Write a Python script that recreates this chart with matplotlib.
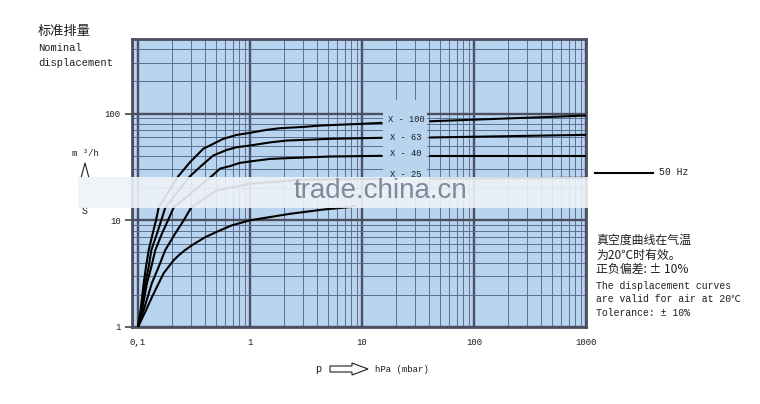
import matplotlib
matplotlib.use("Agg")
import matplotlib.pyplot as plt
from matplotlib.ticker import FixedLocator, NullFormatter
from matplotlib.patches import Rectangle, Polygon
from matplotlib.lines import Line2D

# pump curves: pressure p (hPa) vs displacement S (m3/h)
p_x100 = [0.1, 0.1064, 0.1124, 0.1179, 0.1246, 0.1353, 0.1448, 0.153, 0.229, 0.291, 0.383,
          0.577, 0.761, 1.0, 1.41, 1.85, 2.99, 4.22, 5.9, 9.73, 15.0]
s_x100 = [1.0, 1.55, 2.58, 3.66, 5.25, 7.53, 10.0, 13.2, 25.9, 35.0, 46.8,
          58.0, 63.1, 66.0, 70.4, 72.9, 75.0, 77.2, 78.4, 80.1, 81.9]
p_x100_tail = [40.5, 1000]
s_x100_tail = [84.7, 95.8]

p_x63 = [0.1, 0.1086, 0.1162, 0.1246, 0.1315, 0.1478, 0.1615, 0.1753, 0.291, 0.37, 0.470,
         0.619, 0.761, 1.0, 1.51, 2.13, 5.18, 15.0]
s_x63 = [1.0, 1.55, 2.58, 3.66, 5.25, 7.53, 10.0, 13.2, 25.9, 32.6, 40.5,
         45.6, 48.4, 50.2, 53.7, 55.9, 58.0, 59.3]
p_x63_tail = [40.5, 1000]
s_x63_tail = [59.7, 63.2]

p_x40 = [0.1, 0.1101, 0.1204, 0.1315, 0.1427, 0.1638, 0.1853, 0.2084, 0.455, 0.54, 0.663,
         0.81, 1.0, 1.51, 2.13, 5.18, 15.0]
s_x40 = [1.0, 1.55, 2.58, 3.66, 5.25, 7.53, 10.0, 13.2, 25.9, 30.5, 32.2,
         34.5, 35.6, 37.6, 38.2, 39.6, 40.2]
p_x40_tail = [40.5, 1000]
s_x40_tail = [40.2, 40.2]

p_x25 = [0.1, 0.1148, 0.133, 0.153, 0.175, 0.215, 0.256, 0.299, 0.5, 1.0, 3.0, 15.0]
s_x25 = [1.0, 1.55, 2.58, 3.66, 5.25, 7.53, 10.0, 13.2, 19.0, 22.0, 24.0, 24.5]
p_x25_tail = [40.0, 1000]
s_x25_tail = [24.6, 25.0]

p_small = [0.1, 0.1162, 0.1333, 0.1696, 0.2084, 0.231, 0.2628, 0.303, 0.3963, 0.525, 0.690,
           1.0, 2.28, 4.48, 7.8, 8.7]
s_small = [1.0, 1.39, 1.91, 3.20, 4.23, 4.7, 5.25, 5.84, 6.93, 7.94, 8.98,
           10.0, 11.5, 12.6, 13.3, 13.8]

curve_labels = ["X - 100", "X - 63", "X - 40", "X - 25"]

x_ticks = [0.1, 1, 10, 100, 1000]
x_ticklabels = ["0,1", "1", "10", "100", "1000"]
y_ticks = [1, 10, 100]
y_ticklabels = ["1", "10", "100"]

W, H = 760, 404
CJK = ["Noto Sans CJK SC", "DejaVu Sans"]
MONO = ["Liberation Mono", "Noto Sans CJK SC", "DejaVu Sans"]
BG = "#b9d4ee"
INK = "#1e1e1e"


def fx(px):
    return px / W


def fy(py):
    return 1 - py / H


fig = plt.figure(figsize=(7.6, 4.04), dpi=100)
ax = fig.add_axes([fx(132), fy(327), 454 / W, 288 / H])
ax.set_xscale("log")
ax.set_yscale("log")
ax.set_xlim(0.0884, 1000)
ax.set_ylim(1, 500)
ax.set_facecolor(BG)

x_minor = [m * 10.0 ** e for e in range(-2, 3) for m in range(2, 10)]
y_minor = [m * 10.0 ** e for e in range(0, 3) for m in range(2, 10)]
ax.xaxis.set_major_locator(FixedLocator(x_ticks))
ax.xaxis.set_minor_locator(FixedLocator(x_minor))
ax.yaxis.set_major_locator(FixedLocator(y_ticks))
ax.yaxis.set_minor_locator(FixedLocator(y_minor))
ax.xaxis.set_minor_formatter(NullFormatter())
ax.yaxis.set_minor_formatter(NullFormatter())
ax.set_xticklabels(x_ticklabels, family=MONO, fontsize=6.5, color=INK)
ax.set_yticklabels(y_ticklabels, family=MONO, fontsize=6.5, color=INK)
ax.tick_params(axis="x", which="both", length=0, pad=8)
ax.tick_params(axis="y", which="major", length=5, width=1.2, color="#444", pad=3)
ax.tick_params(axis="y", which="minor", length=0)

ax.grid(which="major", color="#4b4f60", lw=1.7)
ax.grid(which="minor", color="#5a6f90", lw=0.7)
for sp in ax.spines.values():
    sp.set_color("#4b4f60")
    sp.set_linewidth(2)

# curves
kw = dict(color="black", lw=1.5, zorder=3, solid_capstyle="round", solid_joinstyle="round")
ax.plot(p_x100, s_x100, **kw)
ax.plot(p_x100_tail, s_x100_tail, **kw)
ax.plot(p_x63, s_x63, **kw)
ax.plot(p_x63_tail, s_x63_tail, **kw)
ax.plot(p_x40, s_x40, **kw)
ax.plot(p_x40_tail, s_x40_tail, **kw)
ax.plot(p_x25, s_x25, **kw)
ax.plot(p_x25_tail, s_x25_tail, **kw)
ax.plot(p_small, s_small, **kw)

# clear box behind the curve labels
box = Rectangle((fx(383), fy(195)), fx(427) - fx(383), fy(100) - fy(195),
                transform=fig.transFigure, facecolor=BG, edgecolor="none", zorder=2)
fig.add_artist(box)
for lab, py in zip(curve_labels, [119, 137, 153, 175]):
    fig.text(fx(406), fy(py), lab, family=MONO, fontsize=6.3, color=INK,
             ha="center", va="center", zorder=4)

# axis titles
fig.text(fx(38), fy(31), "标准排量", family=CJK, fontsize=9.5, color=INK, va="center")
fig.text(fx(38), fy(48), "Nominal", family=MONO, fontsize=7.5, color=INK, va="center")
fig.text(fx(38), fy(63), "displacement", family=MONO, fontsize=7.5, color=INK, va="center")

fig.text(fx(85), fy(153), "m ³/h", family=MONO, fontsize=6.5, color=INK, ha="center", va="center")
fig.add_artist(Line2D([fx(81), fx(85), fx(89)], [fy(178), fy(163), fy(178)],
                      transform=fig.transFigure, color=INK, lw=0.8))
fig.text(fx(85), fy(211), "S", family=MONO, fontsize=7, color=INK, ha="center", va="center")

fig.text(fx(318), fy(369), "p", family=MONO, fontsize=7.5, color=INK, ha="center", va="center")
arrow_px = [(330, 366), (352, 366), (352, 363), (368, 369), (352, 375), (352, 372), (330, 372)]
fig.add_artist(Polygon([(fx(a), fy(b)) for a, b in arrow_px], closed=True,
                       transform=fig.transFigure, facecolor="white", edgecolor=INK, lw=0.8))
fig.text(fx(375), fy(369), "hPa (mbar)", family=MONO, fontsize=6.5, color=INK, va="center")

# right side notes
fig.add_artist(Line2D([fx(595), fx(653)], [fy(172.5), fy(172.5)],
                      transform=fig.transFigure, color="black", lw=1.5))
fig.text(fx(659), fy(172), "50 Hz", family=MONO, fontsize=7, color=INK, va="center")

notes = [("真空度曲线在气温", CJK, 8.6, 240),
         ("为20℃时有效。", CJK, 8.6, 255),
         ("正负偏差: ± 10%", CJK, 8.6, 269),
         ("The displacement curves", MONO, 7, 286),
         ("are valid for air at 20℃", MONO, 7, 299),
         ("Tolerance: ± 10%", MONO, 7, 313)]
for txt, fam, size, py in notes:
    fig.text(fx(596), fy(py), txt, family=fam, fontsize=size, color=INK, va="center")

# watermark band
fig.add_artist(Rectangle((fx(78), fy(208)), fx(588) - fx(78), fy(177) - fy(208),
                         transform=fig.transFigure, facecolor="#eef3f8", alpha=0.9,
                         edgecolor="none", zorder=10))
fig.text(fx(380), fy(191), "trade.china.cn", family=["Liberation Sans", "DejaVu Sans"],
         fontsize=20, color="#808a9a", ha="center", va="center", zorder=11)

fig.savefig("out.png", dpi=100)
